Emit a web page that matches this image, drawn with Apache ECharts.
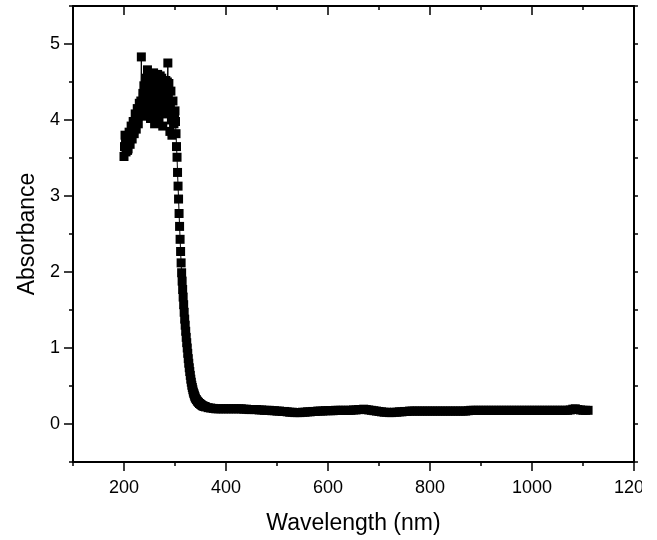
<!DOCTYPE html>
<html>
<head>
<meta charset="utf-8">
<script src="https://cdn.jsdelivr.net/npm/echarts@6/dist/echarts.min.js"></script>
<style>
  html, body { margin: 0; padding: 0; background: #fff; }
  #chart { width: 657px; height: 540px; }
</style>
</head>
<body>
<div id="chart"></div>
<script>
// UV-Vis spectrum (nm, absorbance)
var wavelength = [
    200,201,202,203,204,205,206,207,208,209,210,211,212,213,214,215,216,217,218,219,220,
    221,222,223,224,225,226,227,228,229,230,231,232,233,234,235,236,237,238,239,240,
    241,242,243,244,245,246,247,248,249,250,251,252,253,254,255,256,257,258,259,260,
    261,262,263,264,265,266,267,268,269,270,271,272,273,274,275,276,277,278,279,280,
    281,282,283,284,285,286,287,288,289,290,291,292,293,294,295,296,297,298,299,300,
    301,302,303,304,305,306,307,308,309,310,311,312,313,314,315,316,317,318,319,320,
    321,322,323,324,325,326,327,328,329,330,331,332,333,334,335,336,337,338,339,340,
    342,344,346,348,350,352,354,356,358,360,
    365,370,375,380,385,390,395,400,405,410,415,420,425,430,435,440,445,450,455,460,
    465,470,475,480,485,490,495,500,505,510,515,520,525,530,535,540,545,550,555,560,
    565,570,575,580,585,590,595,600,605,610,615,620,625,630,635,640,645,650,655,660,
    665,670,675,680,685,690,695,700,705,710,715,720,725,730,735,740,745,750,755,760,
    765,770,775,780,785,790,795,800,805,810,815,820,825,830,835,840,845,850,855,860,
    865,870,875,880,885,890,895,900,905,910,915,920,925,930,935,940,945,950,955,960,
    965,970,975,980,985,990,995,1000,1005,1010,1015,1020,1025,1030,1035,1040,1045,1050,1055,1060,
    1065,1070,1075,1080,1085,1090,1095,1100,1105,1110
];
var absorbance = [
    3.52,3.65,3.80,3.70,3.58,3.66,3.72,3.60,3.62,3.78,3.84,3.74,3.68,3.80,3.92,3.85,3.75,3.90,3.98,3.86,3.82,
    3.95,4.08,4.00,3.88,4.02,4.15,4.05,3.95,4.12,4.22,4.15,4.10,4.25,4.83,4.20,4.18,4.35,4.30,4.45,4.05,
    4.30,4.42,4.55,4.12,4.40,4.66,4.48,4.30,4.20,4.55,4.35,4.02,4.45,4.58,4.10,4.25,4.50,4.62,4.40,3.95,
    4.28,4.50,4.05,4.15,4.45,4.60,4.35,3.98,4.22,4.48,4.58,4.20,4.40,4.55,4.10,3.92,4.30,4.40,4.18,4.08,
    4.45,4.52,4.35,4.22,4.50,4.75,4.30,4.48,4.10,3.85,4.20,4.38,4.00,3.80,4.05,4.25,4.10,3.95,4.05,4.12,
    3.98,3.82,3.65,3.51,3.31,3.13,2.96,2.77,2.60,2.43,2.27,2.12,1.99,1.88,1.77,1.67,1.57,1.47,1.38,1.30,
    1.22,1.14,1.07,1.00,0.93,0.86,0.80,0.74,0.69,0.64,0.59,0.55,0.51,0.48,0.45,0.42,0.40,0.38,0.36,0.34,
    0.32,0.30,0.285,0.27,0.26,0.25,0.24,0.235,0.23,0.225,
    0.215,0.21,0.205,0.2,0.2,0.2,0.2,0.2,0.2,0.2,0.2,0.2,0.2,0.2,0.195,0.195,0.19,0.19,0.19,0.19,
    0.185,0.185,0.18,0.18,0.18,0.175,0.175,0.17,0.17,0.165,0.165,0.16,0.155,0.155,0.15,0.15,0.15,0.155,0.155,0.16,
    0.16,0.165,0.165,0.17,0.17,0.17,0.175,0.175,0.175,0.175,0.18,0.18,0.18,0.18,0.18,0.18,0.18,0.185,0.185,0.19,
    0.19,0.195,0.19,0.185,0.18,0.175,0.17,0.165,0.16,0.155,0.155,0.15,0.15,0.155,0.155,0.16,0.16,0.165,0.165,0.17,
    0.17,0.17,0.17,0.17,0.17,0.17,0.17,0.17,0.17,0.17,0.17,0.17,0.17,0.17,0.17,0.17,0.17,0.17,0.17,0.17,
    0.17,0.17,0.175,0.18,0.18,0.18,0.18,0.18,0.18,0.18,0.18,0.18,0.18,0.18,0.18,0.18,0.18,0.18,0.18,0.18,
    0.18,0.18,0.18,0.18,0.18,0.18,0.18,0.18,0.18,0.18,0.18,0.18,0.18,0.18,0.18,0.18,0.18,0.18,0.18,0.18,
    0.18,0.18,0.185,0.195,0.2,0.19,0.185,0.18,0.18,0.18
];
var xTickLabels = [200, 400, 600, 800, 1000, 1200];
var yTickLabels = [0, 1, 2, 3, 4, 5];

var FONT = '"Liberation Sans", Arial, sans-serif';
var AXIS_LINE = { onZero: false, lineStyle: { color: '#000', width: 2 } };
var TICK_STYLE = { color: '#000', width: 1.5 };

function plainNumber(v) { return String(v); }

var chartDom = document.getElementById('chart');
var myChart = echarts.init(chartDom);

var seriesData = wavelength.map(function(w, i) { return [w, absorbance[i]]; });

var option = {
    animation: false,
    grid: { left: 73, right: 20, top: 6, bottom: 78 },
    xAxis: [
        {
            type: 'value', position: 'bottom', min: 100, max: 1200, interval: 100,
            axisLine: AXIS_LINE,
            axisTick: { length: 4, lineStyle: TICK_STYLE },
            axisLabel: { customValues: xTickLabels, formatter: plainNumber, fontSize: 18, color: '#000', margin: 17, fontFamily: FONT },
            splitLine: { show: false },
            name: 'Wavelength (nm)', nameLocation: 'middle', nameGap: 50,
            nameTextStyle: { fontSize: 23, color: '#000', fontFamily: FONT }
        },
        {
            // long ticks at labelled values
            type: 'value', position: 'bottom', min: 100, max: 1200,
            axisLine: { show: false, onZero: false },
            axisTick: { length: 9, customValues: xTickLabels, lineStyle: TICK_STYLE },
            axisLabel: { show: false },
            splitLine: { show: false }
        },
        {
            type: 'value', position: 'top', min: 100, max: 1200, interval: 100,
            axisLine: AXIS_LINE,
            axisTick: { inside: true, length: 4, lineStyle: TICK_STYLE },
            axisLabel: { show: false },
            splitLine: { show: false }
        },
        {
            type: 'value', position: 'top', min: 100, max: 1200,
            axisLine: { show: false, onZero: false },
            axisTick: { inside: true, length: 9, customValues: xTickLabels, lineStyle: TICK_STYLE },
            axisLabel: { show: false },
            splitLine: { show: false }
        }
    ],
    yAxis: [
        {
            type: 'value', position: 'left', min: -0.5, max: 5.5, interval: 0.5,
            axisLine: AXIS_LINE,
            axisTick: { length: 4, lineStyle: TICK_STYLE },
            axisLabel: { customValues: yTickLabels, formatter: plainNumber, fontSize: 18, color: '#000', margin: 13, fontFamily: FONT },
            splitLine: { show: false },
            name: 'Absorbance', nameLocation: 'middle', nameGap: 33,
            nameTextStyle: { fontSize: 23, color: '#000', fontFamily: FONT }
        },
        {
            type: 'value', position: 'left', min: -0.5, max: 5.5,
            axisLine: { show: false, onZero: false },
            axisTick: { length: 9, customValues: yTickLabels, lineStyle: TICK_STYLE },
            axisLabel: { show: false },
            splitLine: { show: false }
        },
        {
            type: 'value', position: 'right', min: -0.5, max: 5.5, interval: 0.5,
            axisLine: AXIS_LINE,
            axisTick: { length: 4, lineStyle: TICK_STYLE },
            axisLabel: { show: false },
            splitLine: { show: false }
        }
    ],
    series: [{
        type: 'line',
        name: 'Absorbance',
        xAxisIndex: 0,
        yAxisIndex: 0,
        data: seriesData,
        symbol: 'rect',
        symbolSize: 9,
        showAllSymbol: true,
        itemStyle: { color: '#000' },
        lineStyle: { color: '#000', width: 1 },
        silent: true
    }],
    // the original figure is cropped just right of the frame
    graphic: [{
        type: 'rect',
        right: 0, top: 0,
        z: 100,
        shape: { width: 15, height: 540 },
        style: { fill: '#fff' }
    }]
};

myChart.setOption(option);
</script>
</body>
</html>
